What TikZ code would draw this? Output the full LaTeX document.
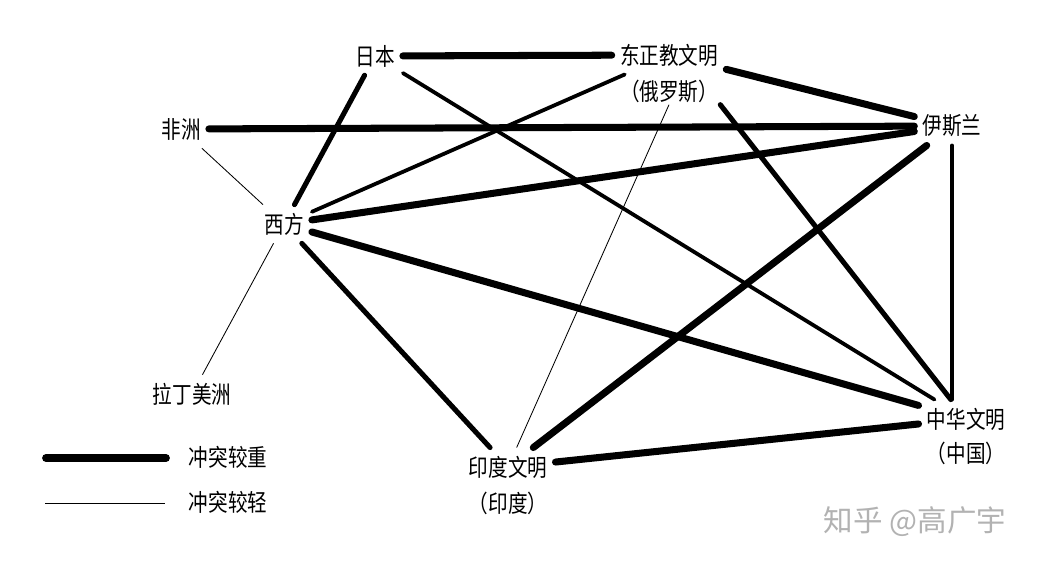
\documentclass[tikz,border=0pt]{standalone}
\usepackage{fontspec}
\setmainfont{Noto Sans CJK SC}
\newfontfamily\civfont{Noto Sans CJK SC}[FakeStretch=0.82]
\usetikzlibrary{positioning}
\tikzstyle{civ} = [
    rectangle,
    inner sep=0.2cm,
    font=\civfont\fontsize{17}{19}\selectfont
]
\tikzstyle{sub} = [
    rectangle,
    inner sep=0.05cm,
    font=\civfont\fontsize{17}{19}\selectfont
]
\tikzstyle{heavy} = [line width=5pt, line cap=round]
\tikzstyle{strong} = [line width=3.6pt, line cap=round]
\tikzstyle{medium} = [line width=2.7pt, line cap=round]
\tikzstyle{light} = [line width=0.6pt]

\begin{document}
\begin{tikzpicture}[x=0.025cm, y=-0.025cm, node distance=0.9cm]

\useasboundingbox (0,0) rectangle (1039,567);

\node (rb) [civ] at (375,56) {日本};

\node (dz) [civ] at (669,55) {东正教文明};
\node (dzsub) [sub, below of=dz] {（俄罗斯）};

\node (ysl) [civ] at (952,126) {伊斯兰};

\node (fz) [civ] at (181,129) {非洲};

\node (xf) [civ] at (284,224) {西方};

\node (lm) [civ] at (192,394) {拉丁美洲};

\node (yd) [civ] at (508,467) {印度文明};
\node (ydsub) [sub, below of=yd] {（印度）};

\node (zh) [civ] at (966,419) {中华文明};
\node (zhsub) [sub, below of=zh, yshift=0.05cm] {（中国）};

% legend
\coordinate (hvya) at (46,458);
\coordinate (hvyb) at (166,458);
\node (hvylabel) [sub] at (228,457) {冲突较重};
\coordinate (lgta) at (45,503);
\coordinate (lgtb) at (165,503);
\node (lgtlabel) [sub] at (228,502) {冲突较轻};

\node (mark) [font=\fontsize{21}{24}\selectfont, text=black!30] at (915,522) {知乎 @高广宇};

\draw [heavy] (rb) -- (dz);
\draw [heavy] (dz) -- (ysl);
\draw [heavy] (fz) -- (ysl);
\draw [heavy] (xf) -- (ysl);
\draw [heavy] (xf) -- (zh);
\draw [heavy] (ysl) -- (yd);
\draw [heavy] (yd) -- (zh);

\draw [strong] (rb) -- (xf);
\draw [strong] (xf) -- (yd);
\draw [strong] (dzsub.south east) -- (zh);

\draw [medium] (dz) -- (xf);
\draw [medium] (rb) -- (zh);
\draw [medium] (ysl.south) -- (ysl.south |- zh.north);

\draw [light] (dzsub.south) -- (yd);
\draw [light] (fz) -- (xf);
\draw [light] (xf) -- (lm);

\draw [heavy, line width=5.5pt] (hvya) -- (hvyb);
\draw [light] (lgta) -- (lgtb);

\end{tikzpicture}
\end{document}
